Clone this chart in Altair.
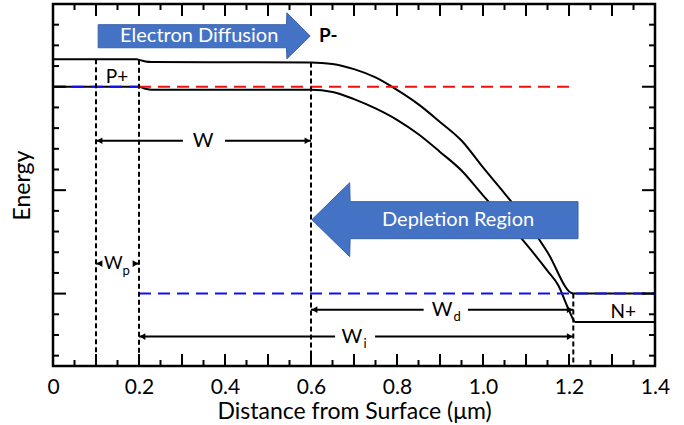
import altair as alt
import pandas as pd

# ---------------- data ----------------
# upper band edge
upper_x = [0.0, 0.195, 0.2, 0.215, 0.23, 0.6, 0.65, 0.7, 0.75, 0.8, 0.85, 0.9, 0.95, 1.0, 1.05, 1.1, 1.15, 1.21, 1.4]
upper_y = [2.265, 2.265, 2.26, 2.245, 2.24, 2.235, 2.22, 2.17, 2.09, 1.97, 1.83, 1.66, 1.48, 1.22, 0.97, 0.71, 0.40, 0.0, 0.0]
# lower band edge
lower_x = [0.0, 0.2, 0.215, 0.23, 0.6, 0.65, 0.7, 0.75, 0.8, 0.85, 0.9, 0.95, 1.0, 1.05, 1.1, 1.15, 1.175, 1.2, 1.215, 1.4]
lower_y = [2.0, 2.0, 1.98, 1.97, 1.97, 1.95, 1.88, 1.79, 1.68, 1.54, 1.37, 1.19, 0.95, 0.72, 0.48, 0.22, 0.08, -0.16, -0.275, -0.275]

# dashed Fermi levels
fermi_x1 = [0.0, 0.2, 0.2]
fermi_x2 = [0.2, 1.2, 1.4]
fermi_y = [2.0, 2.0, 0.0]
fermi_c = ["#1010EE", "#EE1010", "#1010EE"]

# vertical dashed boundaries
bound_x = [0.1, 0.2, 0.6, 1.21]
bound_top = [2.265, 2.26, 2.235, 0.0]
bound_bot = [-0.7, -0.7, -0.7, -0.7]

# dimension arrows (shaft pieces)
shaft_x1 = [0.1, 0.4, 0.1, 0.19, 0.6, 0.965, 0.2, 0.749]
shaft_x2 = [0.302, 0.6, 0.11, 0.2, 0.862, 1.21, 0.656, 1.21]
shaft_y = [1.478, 1.478, 0.29, 0.29, -0.155, -0.155, -0.415, -0.415]
# arrow heads
headL_x = [0.1, 0.1, 0.6, 0.2]
headL_y = [1.478, 0.29, -0.155, -0.415]
headR_x = [0.6, 0.2, 1.21, 1.21]
headR_y = [1.478, 0.29, -0.155, -0.415]

# labels
lab_x = [0.349, 0.905, 0.695]
lab_y = [1.478, -0.155, -0.415]
lab_t = ["W", "W", "W"]
wp_x = [0.14]
wp_y = [0.29]
wp_t = ["W"]
sub_x = [0.17, 0.94, 0.726]
sub_y = [0.22, -0.225, -0.485]
sub_t = ["p", "d", "i"]
reg_x = [0.149, 1.326]
reg_y = [2.097, -0.174]
reg_t = ["P+", "N+"]

# big block arrows
ed_x = [0.105, 0.543, 0.544, 0.598]
ed_top = [2.60, 2.60, 2.715, 2.49]
ed_bot = [2.377, 2.377, 2.27, 2.49]
dr_x = [0.602, 0.69, 0.691, 1.221]
dr_top = [0.715, 1.072, 0.889, 0.889]
dr_bot = [0.715, 0.357, 0.531, 0.531]

# axis ticks
x_major = [0.0, 0.1, 0.2, 0.3, 0.4, 0.5, 0.6, 0.7, 0.8, 0.9, 1.0, 1.1, 1.2, 1.3, 1.4]
x_minor = [0.05, 0.15, 0.25, 0.35, 0.45, 0.55, 0.65, 0.75, 0.85, 0.95, 1.05, 1.15, 1.25, 1.35]
x_labels = [0.0, 0.2, 0.4, 0.6, 0.8, 1.0, 1.2, 1.4]
y_major = [0.0, 1.0, 2.0]
y_minor = [-0.6, -0.4, -0.2, 0.2, 0.4, 0.6, 0.8, 1.2, 1.4, 1.6, 1.8, 2.2, 2.4, 2.6]

# ---------------- chart ----------------
W_, H_ = 602, 362
FONT = "Lato"
BLUE = "#4472C4"
xs = alt.Scale(domain=[0, 1.4], nice=False, zero=False)
ys = alt.Scale(domain=[-0.7, 2.8], nice=False, zero=False)

AX = alt.Axis(
    values=x_labels,
    labelExpr="datum.value == 0 ? '0' : format(datum.value, '.1f')",
    tickSize=0, domain=False, grid=False, labelFlush=False,
    labelFont=FONT, labelFontSize=21, labelColor="black", labelPadding=10,
    titleFont=FONT, titleFontSize=23, titleFontWeight="normal", titleColor="black",
    titleBaseline="alphabetic", titleY=52)
AY = alt.Axis(
    labels=False, ticks=False, domain=False, grid=False,
    titleFont=FONT, titleFontSize=23, titleFontWeight="normal",
    titleColor="black", titleBaseline="alphabetic", titleX=-24)
XT = "Distance from Surface (μm)"
YT = "Energy"


def X(f):
    return alt.X(f, type="quantitative", scale=xs, axis=AX, title=XT)


def Y(f):
    return alt.Y(f, type="quantitative", scale=ys, axis=AY, title=YT)


bands = pd.concat([
    pd.DataFrame({"x": upper_x, "y": upper_y, "band": "upper", "i": range(len(upper_x))}),
    pd.DataFrame({"x": lower_x, "y": lower_y, "band": "lower", "i": range(len(lower_x))}),
])

curves = alt.Chart(bands).mark_line(color="black", strokeWidth=2, interpolate="monotone").encode(
    x=X("x"), y=Y("y"), detail="band:N", order="i:Q")

fermi = alt.Chart(pd.DataFrame({"x1": fermi_x1, "x2": fermi_x2, "y": fermi_y, "c": fermi_c})).mark_rule(
    strokeWidth=2, strokeDash=[12, 7]).encode(
    x=X("x1"), x2="x2", y=Y("y"), color=alt.Color("c:N", scale=None))

bounds = alt.Chart(pd.DataFrame({"x": bound_x, "y1": bound_top, "y2": bound_bot})).mark_rule(
    color="black", strokeWidth=2, strokeDash=[5, 3]).encode(x=X("x"), y=Y("y1"), y2="y2")

shafts = alt.Chart(pd.DataFrame({"x1": shaft_x1, "x2": shaft_x2, "y": shaft_y})).mark_rule(
    color="black", strokeWidth=2).encode(x=X("x1"), x2="x2", y=Y("y"))

headsL = alt.Chart(pd.DataFrame({"x": headL_x, "y": headL_y})).mark_point(
    shape="triangle-left", filled=True, color="black", size=45, opacity=1, xOffset=3.5).encode(
    x=X("x"), y=Y("y"))
headsR = alt.Chart(pd.DataFrame({"x": headR_x, "y": headR_y})).mark_point(
    shape="triangle-right", filled=True, color="black", size=45, opacity=1, xOffset=-3.5).encode(
    x=X("x"), y=Y("y"))

labels = alt.Chart(pd.DataFrame({"x": lab_x, "y": lab_y, "t": lab_t})).mark_text(
    font=FONT, fontSize=20, color="black", baseline="middle").encode(x=X("x"), y=Y("y"), text="t:N")
wp_label = alt.Chart(pd.DataFrame({"x": wp_x, "y": wp_y, "t": wp_t})).mark_text(
    font=FONT, fontSize=18, color="black", baseline="middle").encode(x=X("x"), y=Y("y"), text="t:N")
subs = alt.Chart(pd.DataFrame({"x": sub_x, "y": sub_y, "t": sub_t})).mark_text(
    font=FONT, fontSize=13, color="black", baseline="middle").encode(x=X("x"), y=Y("y"), text="t:N")
regions = alt.Chart(pd.DataFrame({"x": reg_x, "y": reg_y, "t": reg_t})).mark_text(
    font=FONT, fontSize=19, color="black", baseline="middle").encode(x=X("x"), y=Y("y"), text="t:N")

ed_arrow = alt.Chart(pd.DataFrame({"x": ed_x, "y1": ed_top, "y2": ed_bot})).mark_area(
    color=BLUE, stroke="#3A62AA", strokeWidth=1, opacity=1).encode(x=X("x"), y=Y("y1"), y2="y2")
dr_arrow = alt.Chart(pd.DataFrame({"x": dr_x, "y1": dr_top, "y2": dr_bot})).mark_area(
    color=BLUE, stroke="#3A62AA", strokeWidth=1, opacity=1).encode(x=X("x"), y=Y("y1"), y2="y2")

arrow_text = alt.Chart(pd.DataFrame({"x": [0.34, 0.942], "y": [2.49, 0.712],
                                     "t": ["Electron Diffusion", "Depletion Region"]})).mark_text(
    font=FONT, fontSize=20, color="white", baseline="middle").encode(x=X("x"), y=Y("y"), text="t:N")
pminus = alt.Chart(pd.DataFrame({"x": [0.64], "y": [2.49], "t": ["P-"]})).mark_text(
    font=FONT, fontSize=19, fontWeight="bold", color="black", baseline="middle").encode(
    x=X("x"), y=Y("y"), text="t:N")

# inside ticks drawn as short rules at the axis values
tx_maj = pd.DataFrame({"v": x_major})
tx_min = pd.DataFrame({"v": x_minor})
ty_maj = pd.DataFrame({"v": y_major})
ty_min = pd.DataFrame({"v": y_minor})
tick_layers = []
for df, ln in [(tx_maj, 12), (tx_min, 6)]:
    tick_layers.append(alt.Chart(df).mark_rule(color="black", strokeWidth=2).encode(
        x=X("v"), y=alt.value(0), y2=alt.value(ln)))
    tick_layers.append(alt.Chart(df).mark_rule(color="black", strokeWidth=2).encode(
        x=X("v"), y=alt.value(H_), y2=alt.value(H_ - ln)))
for df, ln in [(ty_maj, 13), (ty_min, 6)]:
    tick_layers.append(alt.Chart(df).mark_rule(color="black", strokeWidth=2).encode(
        y=Y("v"), x=alt.value(0), x2=alt.value(ln)))
    tick_layers.append(alt.Chart(df).mark_rule(color="black", strokeWidth=2).encode(
        y=Y("v"), x=alt.value(W_), x2=alt.value(W_ - ln)))

chart = alt.layer(
    curves, fermi, bounds, shafts, headsL, headsR, labels, wp_label, subs, regions,
    ed_arrow, dr_arrow, arrow_text, pminus, *tick_layers
).properties(
    width=W_, height=H_,
    autosize=alt.AutoSizeParams(type="none"),
    padding={"left": 53, "top": 4, "right": 29, "bottom": 59},
    background="white",
).configure_view(stroke="black", strokeWidth=2.5)

chart.save("out.html", embed_options={"renderer": "svg", "actions": False})
